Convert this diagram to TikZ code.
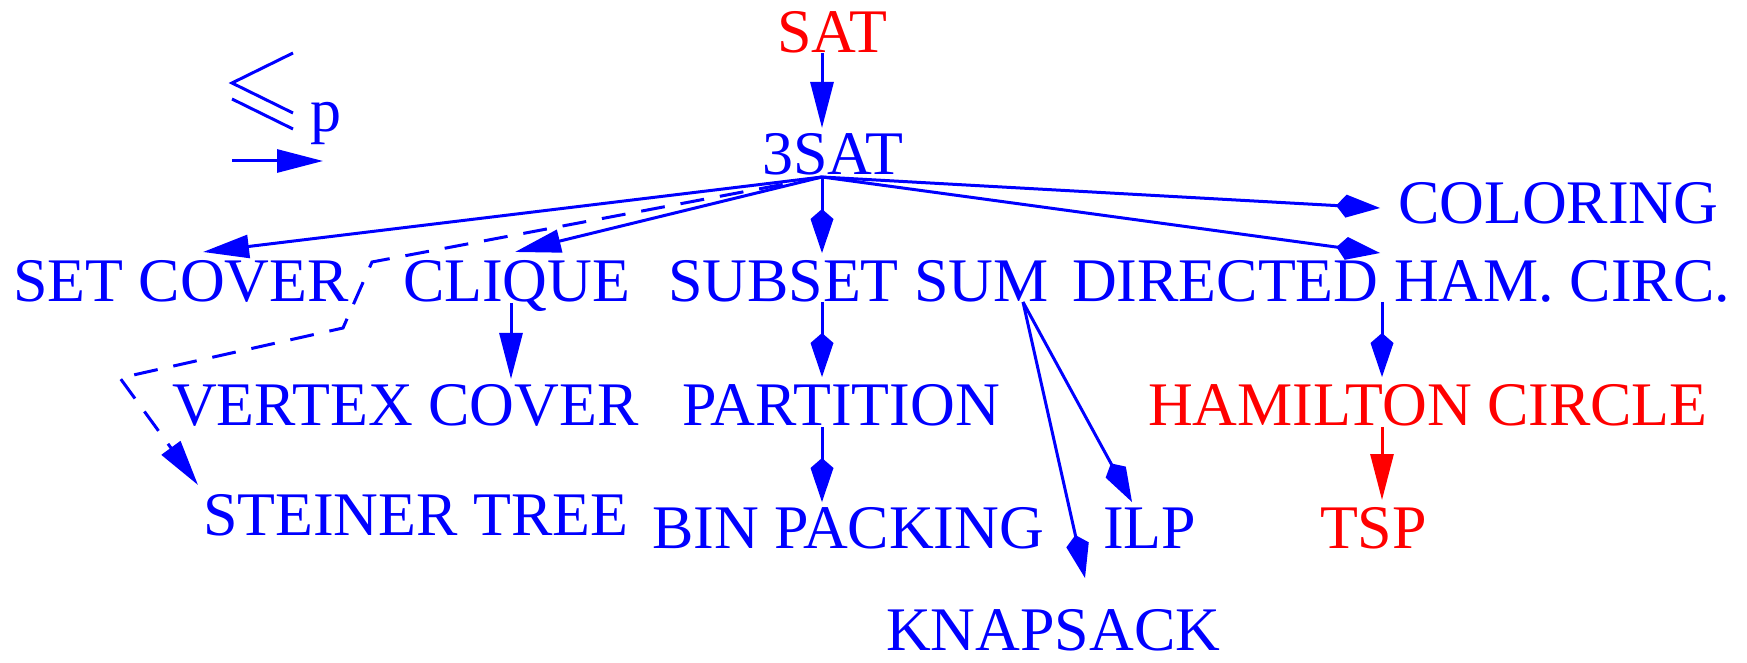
\documentclass[tikz,border=0pt]{standalone}
\usepackage{fontspec}
\setmainfont{Liberation Serif}
\usetikzlibrary{arrows.meta}
\definecolor{fblue}{RGB}{0,0,255}
\definecolor{fred}{RGB}{255,0,0}
\begin{document}
\begin{tikzpicture}[x=0.5pt,y=-0.5pt,
  lbl/.style={anchor=base west,inner sep=0,outer sep=0,text depth=0pt,font=\fontsize{31}{36}\selectfont,text=fblue},
  redlbl/.style={lbl,text=fred},
  conn/.style={draw=fblue,line width=1.5pt},
  redconn/.style={draw=fred,line width=1.5pt},
  tri/.style={-{Triangle[length=23pt,width=11.5pt]}},
  kite/.style={-{Kite[length=22pt,width=11.5pt,inset=5pt]}},
  dashconn/.style={conn,dash pattern=on 12pt off 8pt},
]
\useasboundingbox (0,0) rectangle (1747,663);
% labels
\node[redlbl] (sat) at (777,53) {SAT};
\node[lbl] (tsat) at (762,175) {3SAT};
\node[lbl] (col) at (1398,224) {COLORING};
\node[lbl] (setc) at (13,302) {SET COVER};
\node[lbl] (clq) at (403,302) {CLIQUE};
\node[lbl] (ssum) at (668,302) {SUBSET SUM};
\node[lbl] (dhc) at (1072,302) {DIRECTED HAM. CIRC.};
\node[lbl] (vc) at (172,425) {VERTEX COVER};
\node[lbl] (part) at (682,425) {PARTITION};
\node[redlbl] (hc) at (1148,425) {HAMILTON CIRCLE};
\node[lbl] (stt) at (203,535) {STEINER TREE};
\node[lbl] (bin) at (652,548) {BIN PACKING};
\node[lbl] (ilp) at (1103,548) {ILP};
\node[redlbl] (tsp) at (1320,548) {TSP};
\node[lbl] (knap) at (886,650) {KNAPSACK};
\node[lbl] (pleg) at (310,132) {p};
% legend relation symbol and arrow
\draw[conn] (293,53) -- (232,83) -- (293,113);
\draw[conn] (232,99) -- (293,129);
\coordinate (legA) at (232,161);
\coordinate (legB) at (323,161);
\draw[conn,tri] (legA) -- (legB);
% connector end points
\coordinate (satB) at (822,53);
\coordinate (tsatT) at (822,128);
\coordinate (hub) at (822,177);
\coordinate (setcT) at (203,252);
\coordinate (clqT) at (515,252);
\coordinate (clqB) at (511,303);
\coordinate (vcT) at (511,379);
\coordinate (ssumT) at (822,253);
\coordinate (ssumB) at (822,302);
\coordinate (partT) at (822,377);
\coordinate (partB) at (822,427);
\coordinate (binT) at (822,502);
\coordinate (ssumR) at (1023,302);
\coordinate (ilpT) at (1132,502);
\coordinate (knapT) at (1085,578);
\coordinate (colT) at (1380,208);
\coordinate (dhcT) at (1380,253);
\coordinate (dhcB) at (1382,302);
\coordinate (hcT) at (1382,377);
\coordinate (hcB) at (1382,427);
\coordinate (tspT) at (1382,500);
\coordinate (d1) at (372,262);
\coordinate (d2) at (343,328);
\coordinate (d3) at (120,378);
\coordinate (sttT) at (198,485);
% connectors
\draw[conn,tri] (satB) -- (tsatT);
\draw[conn,tri] (hub) -- (setcT);
\draw[conn,tri] (hub) -- (clqT);
\draw[conn,tri] (clqB) -- (vcT);
\draw[dashconn,tri] (hub) -- (d1) -- (d2) -- (d3) -- (sttT);
\draw[conn,kite] (hub) -- (ssumT);
\draw[conn,kite] (ssumB) -- (partT);
\draw[conn,kite] (partB) -- (binT);
\draw[conn,kite] (ssumR) -- (ilpT);
\draw[conn,kite] (ssumR) -- (knapT);
\draw[conn,kite] (hub) -- (colT);
\draw[conn,kite] (hub) -- (dhcT);
\draw[conn,kite] (dhcB) -- (hcT);
\draw[redconn,tri] (hcB) -- (tspT);
\end{tikzpicture}
\end{document}
